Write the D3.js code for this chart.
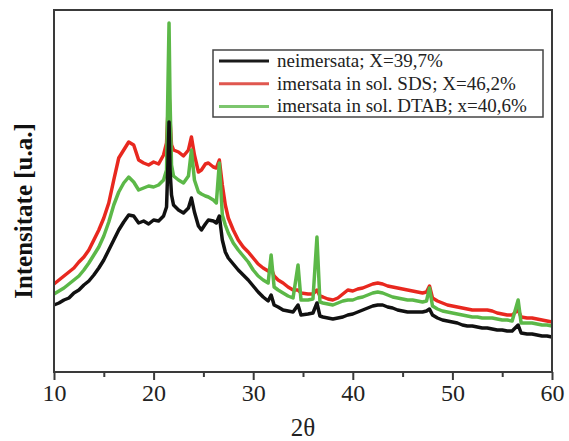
<!DOCTYPE html>
<html>
<head>
<meta charset="utf-8">
<script src="https://cdn.jsdelivr.net/npm/d3@7"></script>
<style>
  html, body { margin: 0; padding: 0; background: #fff; }
  svg { display: block; }
</style>
</head>
<body>
<svg id="chart" width="569" height="441"></svg>
<script>
// ---- data ----
const theta = [
  10, 10.5, 11, 11.5, 12, 12.5, 13, 13.5, 14, 14.5,
  15, 15.5, 16, 16.5, 17, 17.5, 18, 18.5, 19, 19.5,
  20, 20.5, 21, 21.3, 21.45, 21.55, 21.65, 21.8, 22, 22.5,
  23, 23.5, 23.8, 24.1, 24.5, 24.8, 25.2, 25.5, 26, 26.3,
  26.6, 26.9, 27.2, 27.5, 28, 28.5, 29, 29.5, 30, 30.5,
  31, 31.5, 31.8, 32.1, 32.5, 33, 33.5, 34, 34.5, 34.8,
  35.5, 36, 36.4, 36.7, 37, 37.5, 38, 38.5, 39, 39.5,
  40, 40.5, 41, 41.5, 42, 42.5, 43, 43.5, 44, 44.5,
  45, 45.5, 46, 46.5, 47, 47.4, 47.7, 48, 48.5, 49,
  49.5, 50, 50.5, 51, 51.5, 52, 52.5, 53, 53.5, 54,
  54.5, 55, 55.5, 56, 56.6, 56.9, 57.5, 58, 58.5, 59,
  59.5, 60
];

const neimersata = [
  67, 69, 72, 74, 79, 82, 87, 91, 97, 104,
  112, 122, 132, 142, 150, 157, 156, 149, 151, 148,
  152, 151, 156, 165, 212, 250, 202, 177, 167, 162,
  159, 164, 174, 160, 146, 142, 148, 152, 151, 149,
  156, 132, 120, 114, 108, 102, 97, 92, 86, 80,
  75, 71, 77, 67, 65, 62, 61, 60, 67, 57,
  58, 59, 69, 56, 55, 54, 53, 54, 55, 57,
  58, 60, 62, 64, 66, 67, 67, 65, 64, 62,
  61, 60, 60, 60, 60, 61, 63, 57, 54, 52,
  51, 50, 49, 47, 46, 46, 45, 44, 44, 43,
  42, 42, 41, 41, 47, 39, 38, 38, 37, 36,
  36, 35
];

const sds = [
  88, 92, 96, 100, 104, 110, 115, 122, 132, 142,
  154, 169, 192, 214, 222, 230, 227, 212, 209, 207,
  210, 208, 217, 229, 262, 282, 252, 227, 222, 220,
  216, 222, 235, 217, 200, 202, 208, 209, 205, 204,
  212, 187, 167, 154, 142, 132, 125, 120, 114, 108,
  104, 101, 104, 96, 92, 89, 85, 82, 82, 79,
  78, 78, 82, 76, 75, 73, 72, 74, 78, 82,
  81, 83, 84, 86, 88, 89, 88, 86, 85, 84,
  83, 82, 81, 80, 79, 80, 86, 74, 71, 69,
  67, 66, 65, 64, 63, 62, 62, 62, 62, 61,
  59, 58, 57, 57, 62, 55, 54, 54, 53, 52,
  51, 50
];

const dtab = [
  78, 81, 84, 88, 92, 96, 102, 109, 117, 125,
  136, 150, 167, 180, 189, 195, 190, 182, 184, 186,
  185, 187, 192, 202, 292, 349, 272, 207, 196, 192,
  189, 196, 222, 192, 180, 178, 176, 175, 172, 169,
  209, 157, 147, 139, 129, 122, 116, 110, 102, 96,
  92, 89, 117, 85, 82, 79, 76, 74, 107, 72,
  72, 73, 135, 70, 69, 68, 67, 69, 71, 72,
  72, 74, 75, 77, 79, 80, 79, 77, 75, 74,
  73, 72, 72, 71, 70, 71, 84, 66, 63, 61,
  60, 59, 58, 57, 56, 55, 55, 54, 54, 54,
  53, 52, 52, 51, 72, 49, 49, 49, 48, 47,
  47, 46
];

const majorTicks = [10, 20, 30, 40, 50, 60];
const minorTicks = [15, 25, 35, 45, 55];
const seriesNames = [
  "neimersata; X=39,7%",
  "imersata in sol. SDS; X=46,2%",
  "imersata in sol. DTAB; x=40,6%"
];
const seriesColors = ["#111111", "#e8281f", "#5cb848"];
const legendColors = ["#1a1a1a", "#e0574f", "#7cc66e"];

// ---- layout ----
const svg = d3.select("#chart");
const L = 54, R = 552, T = 10, B = 372;
const x = d3.scaleLinear().domain([10, 60]).range([L, R]);
const y = d3.scaleLinear().domain([0, 362]).range([B, T]);

const serif = "'Liberation Serif', 'Times New Roman', serif";

// lines: draw red, green, then black on top
const seriesData = [neimersata, sds, dtab];
const order = [1, 2, 0];
const line = d3.line().x(d => x(d[0])).y(d => y(d[1]));
order.forEach(i => {
  svg.append("path")
    .datum(d3.zip(theta, seriesData[i]))
    .attr("fill", "none")
    .attr("stroke", seriesColors[i])
    .attr("stroke-width", 3.5)
    .attr("stroke-linejoin", "round")
    .attr("d", line);
});

// frame
svg.append("rect")
  .attr("x", L).attr("y", T)
  .attr("width", R - L).attr("height", B - T)
  .attr("fill", "none")
  .attr("stroke", "#3a3a3a")
  .attr("stroke-width", 2);

// bottom axis: minor ticks
svg.append("g")
  .attr("transform", `translate(0,${B})`)
  .call(d3.axisBottom(x).tickValues(minorTicks).tickSize(5).tickFormat(""))
  .call(g => g.select(".domain").remove())
  .call(g => g.selectAll("line").attr("stroke", "#3a3a3a").attr("stroke-width", 2));

// bottom axis: major ticks with labels
svg.append("g")
  .attr("transform", `translate(0,${B})`)
  .call(d3.axisBottom(x).tickValues(majorTicks).tickSize(8).tickPadding(4).tickFormat(d3.format("d")))
  .call(g => g.select(".domain").remove())
  .call(g => g.selectAll("line").attr("stroke", "#3a3a3a").attr("stroke-width", 2))
  .call(g => g.selectAll("text")
    .attr("font-family", serif)
    .attr("font-size", 24)
    .attr("fill", "#222"));

// axis titles
svg.append("text")
  .attr("x", (L + R) / 2)
  .attr("y", 436)
  .attr("text-anchor", "middle")
  .attr("font-family", serif)
  .attr("font-size", 25)
  .attr("fill", "#222")
  .text("2θ");

svg.append("text")
  .attr("transform", `translate(32,${(T + B) / 2 + 20}) rotate(-90)`)
  .attr("text-anchor", "middle")
  .attr("font-family", serif)
  .attr("font-weight", "bold")
  .attr("font-size", 25)
  .attr("fill", "#111")
  .text("Intensitate [u.a.]");

// legend
const lg = svg.append("g");
lg.append("rect")
  .attr("x", 213).attr("y", 50)
  .attr("width", 330).attr("height", 67)
  .attr("fill", "#fff")
  .attr("stroke", "#444")
  .attr("stroke-width", 1.5);
seriesNames.forEach((name, i) => {
  const cy = 61 + i * 22.7;
  lg.append("line")
    .attr("x1", 219).attr("x2", 269)
    .attr("y1", cy).attr("y2", cy)
    .attr("stroke", legendColors[i])
    .attr("stroke-width", 3);
  lg.append("text")
    .attr("x", 277).attr("y", cy + 6)
    .attr("font-family", serif)
    .attr("font-size", 19)
    .attr("fill", "#222")
    .text(name);
});
</script>
</body>
</html>
